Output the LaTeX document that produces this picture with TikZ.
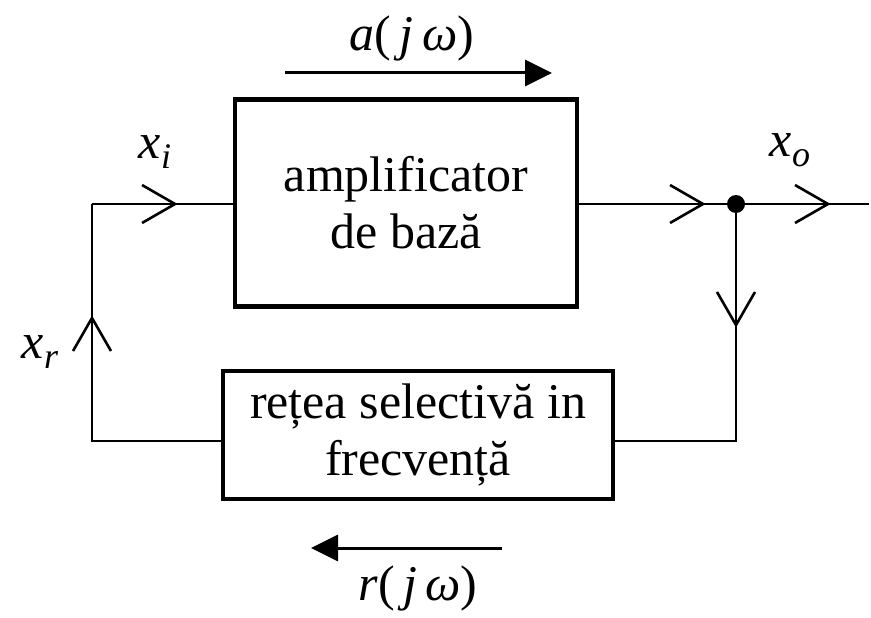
\documentclass[tikz,border=0pt]{standalone}
\usepackage{fontspec}
\setmainfont{Liberation Serif}
\usetikzlibrary{arrows.meta}
\newcommand\mysub[1]{\raisebox{-10pt}{\fontsize{36}{36}\selectfont\textit{#1}}}
\begin{document}
\begin{tikzpicture}[x=1pt,y=-1pt,
  box/.style={draw, line width=4.5pt, align=center, inner sep=0pt,
    font=\fontsize{50}{57}\selectfont},
  wire/.style={line width=2.2pt},
  lbl/.style={font=\fontsize{50}{57}\selectfont, inner sep=0pt},
  barb/.pic={\draw[line width=2.6pt, line join=miter] (-33,-19) -- (0,0) -- (-33,19);},
  flow/.style={line width=3pt, -{Triangle[length=27pt,width=26pt]}}]
\useasboundingbox (0,0) rectangle (871,618);
\node[box, minimum width=342pt, minimum height=207pt] (amp) at (406,203) {amplificator\\de bază};
\node[box, minimum width=390pt, minimum height=128pt] (sel) at (418,435) {rețea selectivă in\\frecvență};
\coordinate (in) at (92,204);
\coordinate (dot) at (736,204);
\coordinate (out) at (869,204);
\coordinate (br) at (736,441);
\coordinate (bl) at (92,441);
\draw[wire] (in) -- (in -| amp.west);
\draw[wire] (amp.east |- dot) -- (dot) -- (out);
\draw[wire] (dot) -- (br) -- (br -| sel.east);
\draw[wire] (bl -| sel.west) -- (bl) -- (in);
\fill (dot) circle (9pt);
\pic at (175,204) {barb};
\pic at (703,204) {barb};
\pic at (828,204) {barb};
\pic[rotate=-90] at (736,325) {barb};
\pic[rotate=90] at (92,318) {barb};
\coordinate (a1) at (285,73);
\coordinate (a2) at (552,73);
\draw[flow] (a1) -- (a2);
\coordinate (r1) at (502,548);
\coordinate (r2) at (311,548);
\draw[flow] (r1) -- (r2);
\node[lbl] (la) at (412,38) {\textit{a}(\,\textit{j}\,\textit{ω})};
\node[lbl] (lr) at (418,588) {\textit{r}(\,\textit{j}\,\textit{ω})};
\node[lbl] (lxi) at (155,152) {\textit{x}\mysub{i}};
\node[lbl] (lxo) at (790,150) {\textit{x}\mysub{o}};
\node[lbl] (lxr) at (40,352) {\textit{x}\mysub{r}};
\end{tikzpicture}
\end{document}
